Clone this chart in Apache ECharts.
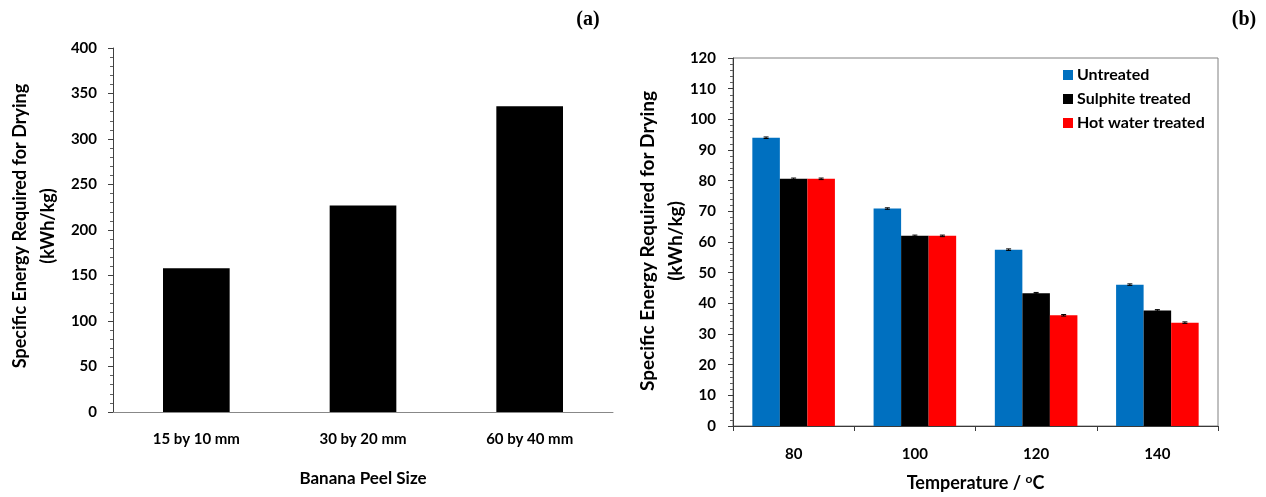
<!DOCTYPE html>
<html>
<head>
<meta charset="utf-8">
<script src="https://cdn.jsdelivr.net/npm/echarts@6.0.0/dist/echarts.min.js"></script>
<style>
  html, body { margin: 0; padding: 0; background: #ffffff; }
  #chart { width: 1266px; height: 497px; }
</style>
</head>
<body>
<div id="chart"></div>
<script>
// (a) specific drying energy by banana peel size
const sizeCategories = ['15 by 10 mm', '30 by 20 mm', '60 by 40 mm'];
const sizeEnergy = [158, 227, 336];

// (b) specific drying energy by drying temperature and pre-treatment
const tempCategories = ['80', '100', '120', '140'];
const untreated = [94.0, 70.9, 57.5, 46.1];
const sulphite = [80.6, 62.0, 43.3, 37.7];
const hotWater = [80.6, 62.0, 36.1, 33.7];
const untreatedErr = [0.25, 0.25, 0.25, 0.25];
const sulphiteErr = [0.25, 0.25, 0.25, 0.25];
const hotWaterErr = [0.25, 0.25, 0.25, 0.25];

const FONT = 'Lato';
const BAR_SHARE = 0.227;

// small error caps drawn at the centre of each grouped bar
function errorSeries(values, errs, index) {
  return {
    type: 'custom',
    xAxisIndex: 1,
    yAxisIndex: 1,
    z: 5,
    silent: true,
    data: values.map((v, i) => [i, v, errs[i]]),
    renderItem(params, api) {
      const cat = api.value(0), v = api.value(1), e = api.value(2);
      const band = api.size([1, 0])[0];
      const bw = band * BAR_SHARE;
      const cx = api.coord([cat, v])[0] + (index - 1) * bw;
      const yHi = api.coord([cat, v + e])[1];
      const yLo = api.coord([cat, v - e])[1];
      const half = 2.5;
      const st = { stroke: '#000', lineWidth: 1 };
      return {
        type: 'group',
        children: [
          { type: 'line', shape: { x1: cx, y1: yHi, x2: cx, y2: yLo }, style: st },
          { type: 'line', shape: { x1: cx - half, y1: yHi, x2: cx + half, y2: yHi }, style: st },
          { type: 'line', shape: { x1: cx - half, y1: yLo, x2: cx + half, y2: yLo }, style: st }
        ]
      };
    }
  };
}

const labelStyle = { fontFamily: FONT, fontWeight: 'bold', fontSize: 15, color: '#000' };

const chart = echarts.init(document.getElementById('chart'), null, { renderer: 'canvas' });

chart.setOption({
  animation: false,
  backgroundColor: '#ffffff',
  textStyle: { fontFamily: FONT },
  grid: [
    { left: 113, right: 653, top: 48, bottom: 85 },
    { left: 733, right: 48, top: 58, bottom: 68, show: true, borderColor: '#808080', borderWidth: 1, backgroundColor: 'transparent' }
  ],
  legend: {
    data: ['Untreated', 'Sulphite treated', 'Hot water treated'],
    orient: 'vertical',
    left: 1058,
    top: 62,
    itemWidth: 10,
    itemHeight: 10,
    itemGap: 8,
    icon: 'rect',
    textStyle: { fontFamily: FONT, fontWeight: 'bold', fontSize: 16, color: '#000', padding: [0, 0, 0, -1] }
  },
  xAxis: [
    {
      type: 'category', gridIndex: 0, data: sizeCategories,
      axisLine: { lineStyle: { color: '#888888', width: 1 } },
      axisTick: { show: false },
      axisLabel: Object.assign({ margin: 20 }, labelStyle),
      name: 'Banana Peel Size', nameLocation: 'middle', nameGap: 58,
      nameTextStyle: { fontFamily: FONT, fontWeight: 'bold', fontSize: 17, color: '#000' }
    },
    {
      type: 'category', gridIndex: 1, data: tempCategories,
      axisLine: { lineStyle: { color: '#3a3a3a', width: 1 } },
      axisTick: { show: true, length: 5, lineStyle: { color: '#3a3a3a' } },
      axisLabel: Object.assign({ margin: 21 }, labelStyle),
      name: 'Temperature / {sup|o}C', nameLocation: 'middle', nameGap: 47,
      nameTextStyle: {
        fontFamily: FONT, fontWeight: 'bold', fontSize: 18, color: '#000',
        rich: { sup: { fontFamily: FONT, fontWeight: 'bold', fontSize: 12, color: '#000', verticalAlign: 'top', padding: [0, 0, 8, 0] } }
      }
    }
  ],
  yAxis: [
    {
      type: 'value', gridIndex: 0, min: 0, max: 400, interval: 50,
      axisLine: { show: true, lineStyle: { color: '#404040', width: 1 } },
      axisTick: { show: true, length: 5, lineStyle: { color: '#404040' } },
      minorTick: { show: true, splitNumber: 5, length: 3, lineStyle: { color: '#606060' } },
      splitLine: { show: false },
      axisLabel: Object.assign({ margin: 16 }, labelStyle)
    },
    {
      type: 'value', gridIndex: 1, min: 0, max: 120, interval: 10,
      axisLine: { show: true, lineStyle: { color: '#3a3a3a', width: 1 } },
      axisTick: { show: true, length: 5, lineStyle: { color: '#3a3a3a' } },
      minorTick: { show: true, splitNumber: 5, length: 3, lineStyle: { color: '#606060' } },
      splitLine: { show: false },
      axisLabel: Object.assign({ margin: 17 }, labelStyle)
    }
  ],
  series: [
    {
      name: 'Specific energy', type: 'bar', xAxisIndex: 0, yAxisIndex: 0,
      data: sizeEnergy, barWidth: '40%', itemStyle: { color: '#000000' }
    },
    {
      name: 'Untreated', type: 'bar', xAxisIndex: 1, yAxisIndex: 1,
      data: untreated, barWidth: '22.7%', barGap: '0%', itemStyle: { color: '#0070C0' }
    },
    {
      name: 'Sulphite treated', type: 'bar', xAxisIndex: 1, yAxisIndex: 1,
      data: sulphite, barWidth: '22.7%', barGap: '0%', itemStyle: { color: '#000000' }
    },
    {
      name: 'Hot water treated', type: 'bar', xAxisIndex: 1, yAxisIndex: 1,
      data: hotWater, barWidth: '22.7%', barGap: '0%', itemStyle: { color: '#FF0000' }
    },
    errorSeries(untreated, untreatedErr, 0),
    errorSeries(sulphite, sulphiteErr, 1),
    errorSeries(hotWater, hotWaterErr, 2)
  ],
  graphic: [
    {
      type: 'text', x: 34, y: 226, rotation: Math.PI / 2,
      style: {
        text: 'Specific Energy Required for Drying\n(kWh/kg)',
        fontFamily: FONT, fontWeight: 'bold', fontSize: 18, lineHeight: 28,
        fill: '#000', align: 'center', verticalAlign: 'middle'
      }
    },
    {
      type: 'text', x: 662, y: 241, rotation: Math.PI / 2,
      style: {
        text: 'Specific Energy Required for Drying\n(kWh/kg)',
        fontFamily: FONT, fontWeight: 'bold', fontSize: 19, lineHeight: 28,
        fill: '#000', align: 'center', verticalAlign: 'middle'
      }
    },
    {
      type: 'text', x: 588, y: 20,
      style: { text: '(a)', fontFamily: 'Liberation Serif', fontWeight: 'bold', fontSize: 20, fill: '#000', align: 'center', verticalAlign: 'middle' }
    },
    {
      type: 'text', x: 1244, y: 20,
      style: { text: '(b)', fontFamily: 'Liberation Serif', fontWeight: 'bold', fontSize: 20, fill: '#000', align: 'center', verticalAlign: 'middle' }
    }
  ]
});
</script>
</body>
</html>
